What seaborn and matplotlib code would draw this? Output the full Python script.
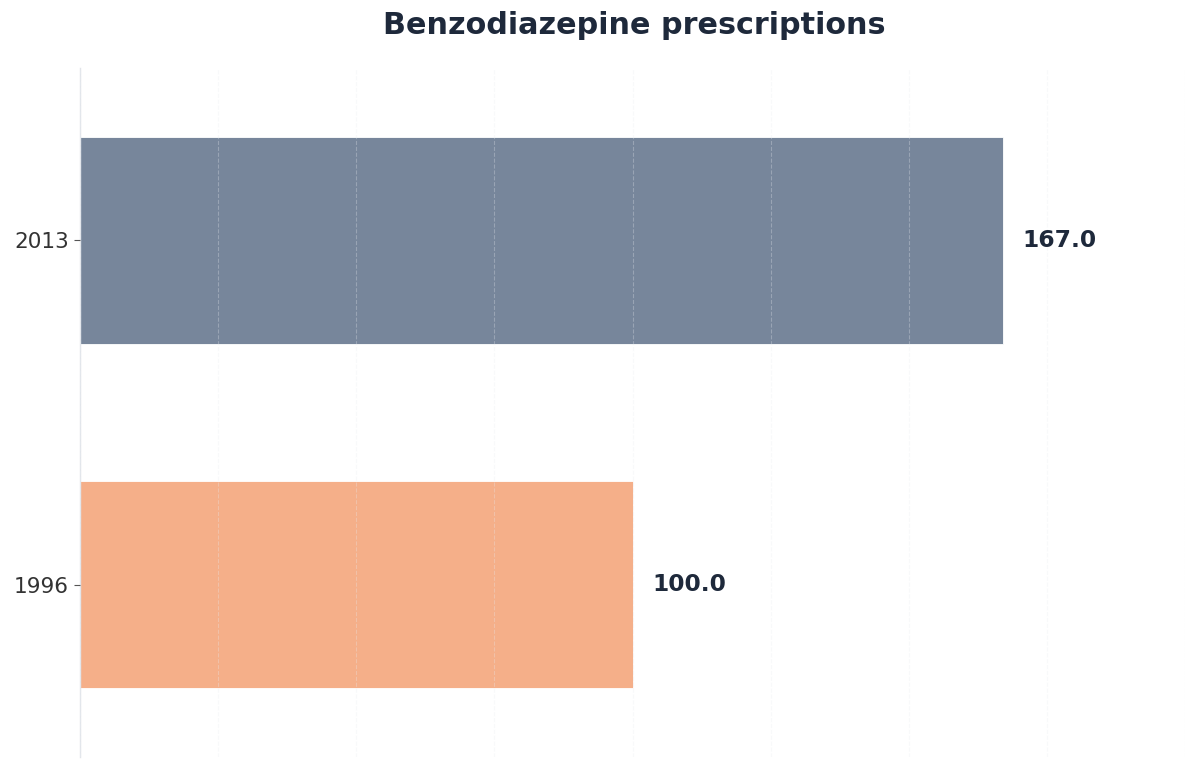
import matplotlib
matplotlib.use("Agg")
import matplotlib.pyplot as plt
import seaborn as sns
import pandas as pd

years = ["2013", "1996"]
values = [167.0, 100.0]
colors = ["#77869b", "#f5af89"]

sns.set_theme(style="white")
plt.rcParams['font.family'] = ['DejaVu Sans']

df = pd.DataFrame({"year": years, "value": values})

fig = plt.figure(figsize=(12, 7.68), dpi=100)
ax = fig.add_axes([80/1200, 1 - 757/768, (1185 - 80)/1200, (757 - 68)/768])

sns.barplot(data=df, x="value", y="year", hue="year", palette=colors, order=years,
            hue_order=years, orient="h", width=0.6, legend=False, ax=ax,
            edgecolor="white", linewidth=0.6, saturation=1)

ax.set_xlim(0, 200)
ax.set_ylim(1.5, -0.5)
ax.set_xticks(range(0, 201, 25))
ax.set_xticklabels([])
ax.tick_params(axis="x", length=0)
ax.tick_params(axis="y", length=4, width=0.8, color="#555555", labelsize=15.6,
               labelcolor="#333333", pad=4, left=True)
ax.set_xlabel("")
ax.set_ylabel("")
ax.set_axisbelow(False)
ax.grid(axis="x", color="#e8ecf1", linestyle="--", linewidth=0.8, alpha=0.3)
ax.grid(axis="y", visible=False)
for s in ["top", "right", "bottom"]:
    ax.spines[s].set_visible(False)
ax.spines["left"].set_color("#e2e5ea")
ax.spines["left"].set_linewidth(1.0)

for i, v in enumerate(values):
    ax.text(v + 3.6, i, f"{v:.1f}", va="center", ha="left", fontsize=16.8,
            fontweight="bold", color="#1e293b")

fig.text(634/1200, 1 - 25/768, "Benzodiazepine prescriptions", ha="center", va="center",
         fontsize=21.8, fontweight="bold", color="#1e293b")

fig.savefig("out.png", dpi=100)
